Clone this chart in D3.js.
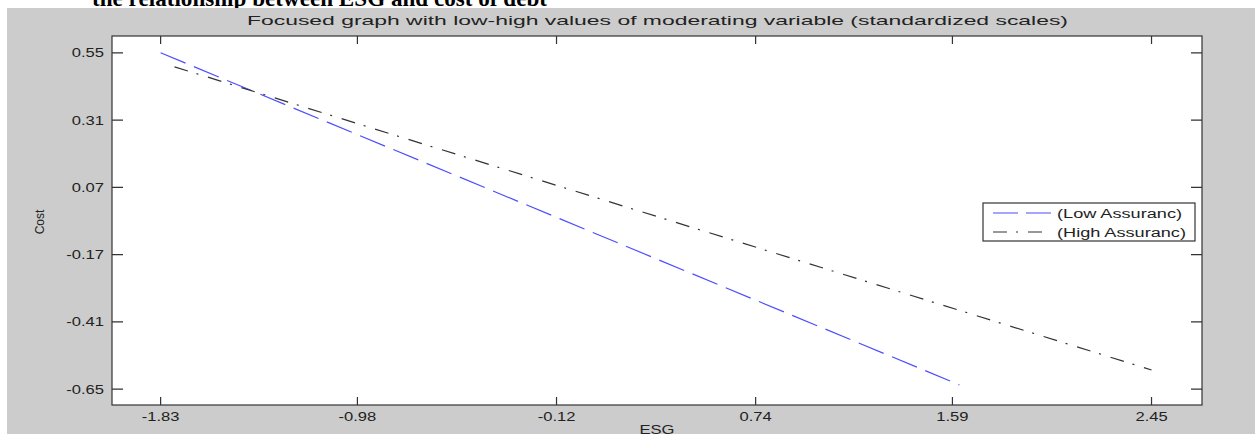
<!DOCTYPE html>
<html>
<head>
<meta charset="utf-8">
<script src="https://cdn.jsdelivr.net/npm/d3@7"></script>
<style>
  body { margin: 0; background: #fff; }
  svg { display: block; font-family: Arial, "Liberation Sans", sans-serif; }
</style>
</head>
<body>
<svg id="chart"></svg>
<script>
// values
const xTicks = [-1.83, -0.98, -0.12, 0.74, 1.59, 2.45];
const yTicks = [0.55, 0.31, 0.07, -0.17, -0.41, -0.65];

const lowESG = [-1.83, 1.62];
const lowCost = [0.55, -0.635];
const highESG = [-1.77, 2.45];
const highCost = [0.50, -0.582];

const seriesNames = ["(Low Assuranc)", "(High Assuranc)"];

const width = 1255;
const height = 434;
const plot = { left: 112, right: 1202, top: 36, bottom: 405 };
const stretch = 1.38; // the picture is stretched sideways

const svg = d3.select("#chart")
  .attr("width", width)
  .attr("height", height);

// cut-off heading from the page above the figure
svg.append("text")
  .attr("x", 92)
  .attr("y", 6)
  .attr("font-family", "'Liberation Serif', 'Times New Roman', serif")
  .attr("font-weight", "bold")
  .attr("font-size", 23)
  .attr("textLength", 455)
  .attr("lengthAdjust", "spacingAndGlyphs")
  .text("the relationship between ESG and cost of debt");

svg.append("rect")
  .attr("x", 7).attr("y", 8)
  .attr("width", width - 7).attr("height", height - 8)
  .attr("fill", "#cccccc");

const x = d3.scaleLinear()
  .domain([-2.04, 2.668])
  .range([plot.left, plot.right]);

const y = d3.scaleLinear()
  .domain([-0.707, 0.61])
  .range([plot.bottom, plot.top]);

svg.append("rect")
  .attr("x", plot.left).attr("y", plot.top)
  .attr("width", plot.right - plot.left)
  .attr("height", plot.bottom - plot.top)
  .attr("fill", "#fff");

// title
svg.append("text")
  .attr("x", 247)
  .attr("y", 25)
  .attr("font-size", 13)
  .attr("fill", "#222")
  .attr("textLength", 821)
  .attr("lengthAdjust", "spacingAndGlyphs")
  .text("Focused graph with low-high values of moderating variable (standardized scales)");

// lines
const line = d3.line().x(d => x(d[0])).y(d => y(d[1]));

svg.append("path")
  .datum(d3.zip(lowESG, lowCost))
  .attr("d", line)
  .attr("fill", "none")
  .attr("stroke", "#4d4dff")
  .attr("stroke-width", 1.2)
  .attr("stroke-dasharray", "27,9");

svg.append("path")
  .datum(d3.zip(highESG, highCost))
  .attr("d", line)
  .attr("fill", "none")
  .attr("stroke", "#333")
  .attr("stroke-width", 1.2)
  .attr("stroke-dasharray", "14,9,2,10");

// frame and inward ticks
const frame = svg.append("g").attr("stroke", "#333").attr("stroke-width", 1.2);

frame.append("rect")
  .attr("x", plot.left).attr("y", plot.top)
  .attr("width", plot.right - plot.left)
  .attr("height", plot.bottom - plot.top)
  .attr("fill", "none");

frame.selectAll(".xt")
  .data(xTicks)
  .join("path")
    .attr("d", d => `M${x(d)},${plot.bottom}v-8M${x(d)},${plot.top}v8`);

frame.selectAll(".yt")
  .data(yTicks)
  .join("path")
    .attr("d", d => `M${plot.left},${y(d)}h11M${plot.right},${y(d)}h-11`);

// tick labels
svg.append("g")
  .attr("font-size", 12)
  .attr("fill", "#222")
  .attr("text-anchor", "middle")
  .selectAll("text")
  .data(xTicks)
  .join("text")
    .attr("transform", d => `translate(${x(d)},${plot.bottom + 16}) scale(${stretch},1)`)
    .text(d => d.toFixed(2));

svg.append("g")
  .attr("font-size", 12)
  .attr("fill", "#222")
  .attr("text-anchor", "end")
  .selectAll("text")
  .data(yTicks)
  .join("text")
    .attr("transform", d => `translate(${plot.left - 8},${y(d) + 4.5}) scale(${stretch},1)`)
    .text(d => d.toFixed(2));

// axis labels
svg.append("text")
  .attr("transform", `translate(${(plot.left + plot.right) / 2},${plot.bottom + 29}) scale(${stretch},1)`)
  .attr("text-anchor", "middle")
  .attr("font-size", 12)
  .attr("fill", "#222")
  .text("ESG");

svg.append("text")
  .attr("transform", `translate(44,222) rotate(-90)`)
  .attr("text-anchor", "middle")
  .attr("font-size", 12)
  .attr("fill", "#222")
  .text("Cost");

// legend
const legend = svg.append("g");
legend.append("rect")
  .attr("x", 983).attr("y", 203)
  .attr("width", 212).attr("height", 38)
  .attr("fill", "#fff")
  .attr("stroke", "#333")
  .attr("stroke-width", 1.2);

const legendStyles = [
  { color: "#4d4dff", dash: "25,8" },
  { color: "#333", dash: "14,9,2,10" }
];
const legendWidths = [125, 129];

seriesNames.forEach((name, i) => {
  const ly = 213 + i * 19;
  legend.append("line")
    .attr("x1", 993).attr("x2", 1051)
    .attr("y1", ly).attr("y2", ly)
    .attr("stroke", legendStyles[i].color)
    .attr("stroke-width", 1.2)
    .attr("stroke-dasharray", legendStyles[i].dash);
  legend.append("text")
    .attr("x", 1057)
    .attr("y", ly + 4.5)
    .attr("font-size", 12.5)
    .attr("fill", "#222")
    .attr("textLength", legendWidths[i])
    .attr("lengthAdjust", "spacingAndGlyphs")
    .text(name);
});
</script>
</body>
</html>
